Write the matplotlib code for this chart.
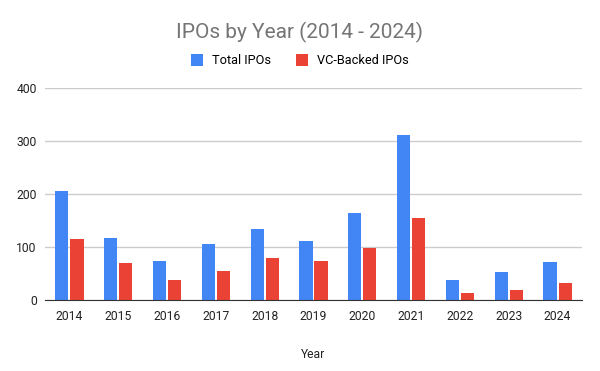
import numpy as np
import matplotlib
matplotlib.use('Agg')
from matplotlib import pyplot as plt

years = ['2014', '2015', '2016', '2017', '2018', '2019', '2020', '2021', '2022', '2023', '2024']
total_ipos = [206, 117, 74, 106, 134, 111, 164, 311, 38, 53, 72]
vc_ipos = [115, 70, 38, 55, 79, 74, 98, 155, 13, 19, 32]

plt.rcParams['font.family'] = ['Roboto', 'DejaVu Sans']

fig = plt.figure(figsize=(6, 3.71), dpi=100)
ax = fig.add_axes([0.075, 0.191, 0.895, 0.572])

x = np.arange(len(years))
w = 0.27
ax.bar(x - w / 2 - 0.02, total_ipos, w, color='#4285F4', label='Total IPOs', zorder=3)
ax.bar(x + w / 2 + 0.02, vc_ipos, w, color='#EA4335', label='VC-Backed IPOs', zorder=3)

ax.set_xlim(-0.5, len(years) - 0.5)
ax.set_ylim(0, 400)
ax.set_yticks([0, 100, 200, 300, 400])
ax.set_xticks(x)
ax.set_xticklabels(years)
ax.grid(axis='y', color='#cccccc', linewidth=1, zorder=0)
for s in ['top', 'right', 'left']:
    ax.spines[s].set_visible(False)
ax.spines['bottom'].set_color('#333333')
ax.spines['bottom'].set_zorder(4)
ax.tick_params(length=0, labelsize=8.7, labelcolor='#222222')
ax.tick_params(axis='x', pad=7)
ax.tick_params(axis='y', pad=6)

ax.set_xlabel('Year', fontsize=8.7, color='#222222', labelpad=18)
fig.text(0.5, 0.912, 'IPOs by Year (2014 - 2024)', ha='center', va='center',
         fontsize=15, color='#757575')
fig.legend(loc='center', bbox_to_anchor=(0.5, 0.836), ncol=2, frameon=False,
           fontsize=9.2, handlelength=0.9, handleheight=1.0, columnspacing=2.0,
           handletextpad=0.7)

fig.savefig('out.png', dpi=100)
